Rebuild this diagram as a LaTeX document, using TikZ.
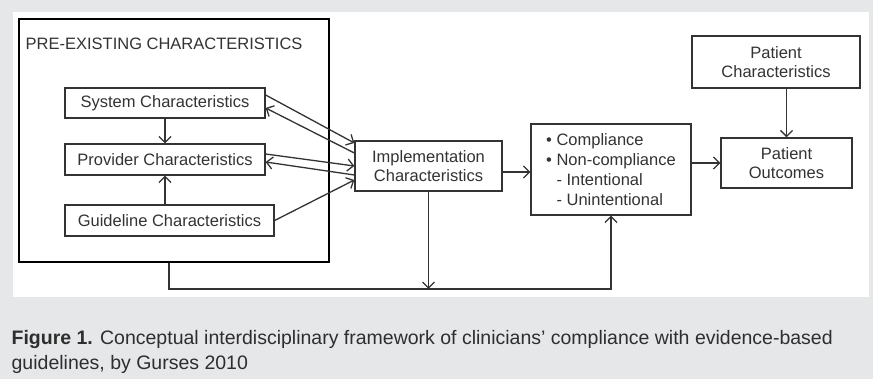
\documentclass[tikz,border=0pt]{standalone}
\usepackage{fontspec}
\setmainfont{Liberation Sans}
\usetikzlibrary{arrows.meta}
\definecolor{panelgrey}{HTML}{E6E7E9}
\definecolor{ink}{HTML}{333333}
\definecolor{capink}{HTML}{2E2E2E}

\begin{document}
\begin{tikzpicture}[x=1pt,y=1pt,line width=1.3pt,>={Straight Barb[length=6pt,width=12pt]},
 font=\fontsize{16.5}{19.5}\selectfont,
 box/.style={draw=ink,text=ink,inner sep=0pt,align=center},
 link/.style={draw=ink,->}]
\fill[panelgrey] (0,0) rectangle (873,379);
\fill[white] (13,82) rectangle (869,367);
% left block
\node[box,draw=black,line width=2.6pt,minimum width=310,minimum height=243] (pre) at (174,238.5) {};
\node[anchor=west,inner sep=0pt,text=ink] (title) at (25,335) {PRE-EXISTING CHARACTERISTICS};
\node[box,minimum width=200,minimum height=30] (sys) at (165,276) {System Characteristics};
\node[box,minimum width=200,minimum height=31] (prov) at (165,219.5) {Provider Characteristics};
\node[box,minimum width=209,minimum height=31] (guide) at (169.5,158.5) {Guideline Characteristics};
% right part
\node[box,minimum width=147,minimum height=50] (impl) at (428.5,213) {Implementation\\Characteristics};
\node[box,minimum width=160,minimum height=91,align=left,font=\fontsize{16.5}{20}\selectfont]
 (comp) at (611,209.5) {• Compliance\\• Non-compliance\\\hphantom{•} - Intentional\\\hphantom{•} - Unintentional};
\node[box,minimum width=168,minimum height=52] (pchar) at (776,317) {Patient\\Characteristics};
\node[box,minimum width=131,minimum height=50] (pout) at (786.5,216) {Patient\\Outcomes};
\coordinate (loop) at (0,90);
% connectors
\draw[link] (sys.south) -- (prov.north);
\draw[link] (guide.north -| prov.south) -- (prov.south);
\draw[link] ([yshift=8pt]sys.east) -- ([yshift=23pt]impl.west);
\draw[link] ([yshift=13pt]impl.west) -- ([yshift=-5pt]sys.east);
\draw[link] ([yshift=5.5pt]prov.east) -- (impl.west);
\draw[link] ([yshift=-9pt]impl.west) -- ([yshift=-2.5pt]prov.east);
\draw[link] (guide.east) -- ([yshift=-14pt]impl.west);
\draw[link] ([yshift=-6pt]impl.east) -- ([yshift=-6pt]impl.east -| comp.west);
\draw[link] (comp.east |- pout.west) -- (pout.west);
\draw[link] (pout.north |- pchar.south) -- (pout.north);
\draw[link] (impl.south) -- (impl.south |- loop);
\draw[link] ([xshift=-5pt]pre.south) |- (loop -| comp.south) -- (comp.south);
% caption
\node[anchor=base west,inner sep=0pt,text=capink,font=\fontsize{19.5}{25}\selectfont] (cap1) at (11,34)
 {\textbf{Figure 1.} Conceptual interdisciplinary framework of clinicians’ compliance with evidence-based};
\node[anchor=base west,inner sep=0pt,text=capink,font=\fontsize{19.5}{25}\selectfont] (cap2) at (11,9)
 {guidelines, by Gurses 2010};
\end{tikzpicture}
\end{document}
